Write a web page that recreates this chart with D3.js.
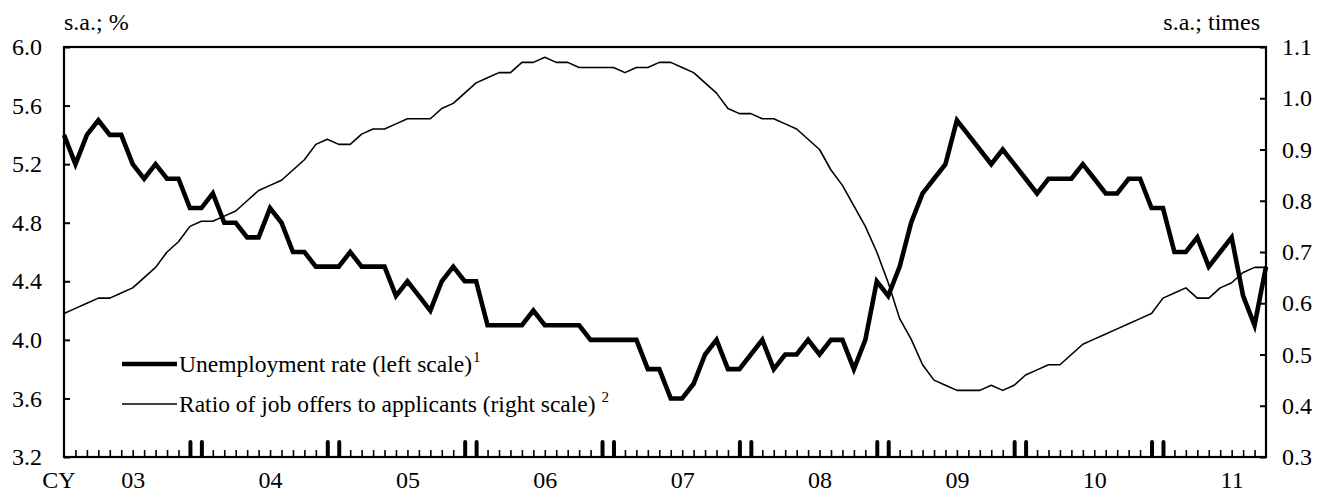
<!DOCTYPE html>
<html>
<head>
<meta charset="utf-8">
<script src="https://cdn.jsdelivr.net/npm/d3@7"></script>
<style>
  html, body { margin: 0; padding: 0; background: #fff; }
  svg text { font-family: 'Liberation Serif', 'Times New Roman', Times, serif; fill: #000; }
</style>
</head>
<body>
<svg id="chart" width="1323" height="502"></svg>
<script>
// ---- data (monthly, Jan 2003 - Oct 2011) ----
const firstYear = 2003;
const unemployment = [
  5.4, 5.2, 5.4, 5.5, 5.4, 5.4, 5.2, 5.1, 5.2, 5.1, 5.1, 4.9,
  4.9, 5.0, 4.8, 4.8, 4.7, 4.7, 4.9, 4.8, 4.6, 4.6, 4.5, 4.5,
  4.5, 4.6, 4.5, 4.5, 4.5, 4.3, 4.4, 4.3, 4.2, 4.4, 4.5, 4.4,
  4.4, 4.1, 4.1, 4.1, 4.1, 4.2, 4.1, 4.1, 4.1, 4.1, 4.0, 4.0,
  4.0, 4.0, 4.0, 3.8, 3.8, 3.6, 3.6, 3.7, 3.9, 4.0, 3.8, 3.8,
  3.9, 4.0, 3.8, 3.9, 3.9, 4.0, 3.9, 4.0, 4.0, 3.8, 4.0, 4.4,
  4.3, 4.5, 4.8, 5.0, 5.1, 5.2, 5.5, 5.4, 5.3, 5.2, 5.3, 5.2,
  5.1, 5.0, 5.1, 5.1, 5.1, 5.2, 5.1, 5.0, 5.0, 5.1, 5.1, 4.9,
  4.9, 4.6, 4.6, 4.7, 4.5, 4.6, 4.7, 4.3, 4.1, 4.5
];
const jobRatio = [
  0.58, 0.59, 0.60, 0.61, 0.61, 0.62, 0.63, 0.65, 0.67, 0.70, 0.72, 0.75,
  0.76, 0.76, 0.77, 0.78, 0.80, 0.82, 0.83, 0.84, 0.86, 0.88, 0.91, 0.92,
  0.91, 0.91, 0.93, 0.94, 0.94, 0.95, 0.96, 0.96, 0.96, 0.98, 0.99, 1.01,
  1.03, 1.04, 1.05, 1.05, 1.07, 1.07, 1.08, 1.07, 1.07, 1.06, 1.06, 1.06,
  1.06, 1.05, 1.06, 1.06, 1.07, 1.07, 1.06, 1.05, 1.03, 1.01, 0.98, 0.97,
  0.97, 0.96, 0.96, 0.95, 0.94, 0.92, 0.90, 0.86, 0.83, 0.79, 0.75, 0.70,
  0.64, 0.57, 0.53, 0.48, 0.45, 0.44, 0.43, 0.43, 0.43, 0.44, 0.43, 0.44,
  0.46, 0.47, 0.48, 0.48, 0.50, 0.52, 0.53, 0.54, 0.55, 0.56, 0.57, 0.58,
  0.61, 0.62, 0.63, 0.61, 0.61, 0.63, 0.64, 0.66, 0.67, 0.67
];
const leftTicks = [3.2, 3.6, 4.0, 4.4, 4.8, 5.2, 5.6, 6.0];
const rightTicks = [0.3, 0.4, 0.5, 0.6, 0.7, 0.8, 0.9, 1.0, 1.1];
const yearLabels = ["03", "04", "05", "06", "07", "08", "09", "10", "11"];
const leftUnit = "s.a.; %";
const rightUnit = "s.a.; times";
const axisPrefix = "CY";
const legendItems = [
  { label: "Unemployment rate (left scale)", note: "1" },
  { label: "Ratio of job offers to applicants (right scale)", note: "2" }
];

// ---- layout ----
const m = { left: 64, right: 1266, top: 47, bottom: 457 };
const FS = 24;
const LFS = 23.5;
const FONT = "'Liberation Serif', 'Times New Roman', Times, serif";
const svg = d3.select("#chart");
const n = unemployment.length;

const x = d3.scaleLinear().domain([0, n - 1]).range([m.left, m.right]);
const yL = d3.scaleLinear().domain([3.2, 6.0]).range([m.bottom, m.top]);
const yR = d3.scaleLinear().domain([0.3, 1.1]).range([m.bottom, m.top]);

const gL = svg.append("g").attr("transform", `translate(${m.left},0)`)
  .call(d3.axisLeft(yL).tickValues(leftTicks).tickFormat(d3.format(".1f"))
    .tickSize(-6).tickPadding(22));
const gR = svg.append("g").attr("transform", `translate(${m.right},0)`)
  .call(d3.axisRight(yR).tickValues(rightTicks).tickFormat(d3.format(".1f"))
    .tickSize(-6).tickPadding(16));

const gB = svg.append("g").attr("transform", `translate(0,${m.bottom})`)
  .call(d3.axisBottom(x).tickValues(d3.range(1, n - 1)).tickFormat("")
    .tickSize(-7));
const boundaries = [];
for (let i = 0; i < yearLabels.length - 1; i++) { boundaries.push(12 * i + 11, 12 * i + 12); }
const gB2 = svg.append("g").attr("transform", `translate(0,${m.bottom})`)
  .call(d3.axisBottom(x).tickValues(boundaries).tickFormat("").tickSize(-15));
gB2.selectAll(".tick line").attr("stroke-width", 4).attr("stroke-linecap", "round")
  .attr("y1", -1);
const yearPos = yearLabels.map((d, i) => 12 * i + 6);
const gB3 = svg.append("g").attr("transform", `translate(0,${m.bottom})`)
  .call(d3.axisBottom(x).tickValues(yearPos)
    .tickFormat((d, i) => yearLabels[i]).tickSize(0).tickPadding(14));

[gL, gR, gB, gB2, gB3].forEach(g => {
  g.select(".domain").remove();
  g.attr("font-family", null).attr("font-size", null);
  g.selectAll("text").style("font-size", FS + "px").style("font-family", FONT);
});
gL.selectAll(".tick line").attr("stroke-width", 2);
gR.selectAll(".tick line").attr("stroke-width", 2);
gB.selectAll(".tick line").attr("stroke-width", 1.6);

svg.append("rect")
  .attr("x", m.left).attr("y", m.top)
  .attr("width", m.right - m.left).attr("height", m.bottom - m.top)
  .attr("fill", "none").attr("stroke", "#000").attr("stroke-width", 2.2);

function txt(xp, yp, s, anchor) {
  return svg.append("text").attr("x", xp).attr("y", yp)
    .style("font-size", FS + "px").style("font-family", FONT)
    .attr("text-anchor", anchor || "start").text(s);
}
txt(m.left, 30, leftUnit);
txt(1260, 30, rightUnit, "end");
txt(59, 488, axisPrefix, "middle");

const lineL = d3.line().x((d, i) => x(i)).y(d => yL(d));
const lineR = d3.line().x((d, i) => x(i)).y(d => yR(d));
svg.append("path").datum(jobRatio).attr("d", lineR)
  .attr("fill", "none").attr("stroke", "#000").attr("stroke-width", 1.6)
  .attr("stroke-linejoin", "round");
svg.append("path").datum(unemployment).attr("d", lineL)
  .attr("fill", "none").attr("stroke", "#000").attr("stroke-width", 4.6)
  .attr("stroke-linejoin", "miter");

const legY = [364, 404];
const legW = [4.6, 1.6];
legendItems.forEach((it, i) => {
  svg.append("line").attr("x1", 122).attr("x2", 177)
    .attr("y1", legY[i]).attr("y2", legY[i])
    .attr("stroke", "#000").attr("stroke-width", legW[i]);
  const t = svg.append("text").attr("x", 179).attr("y", legY[i] + 8)
    .style("font-size", LFS + "px").style("font-family", FONT);
  t.append("tspan").text(it.label);
  t.append("tspan").attr("dx", i === 1 ? 6 : 1).attr("dy", -10).style("font-size", "15px").text(it.note);
});
</script>
</body>
</html>
